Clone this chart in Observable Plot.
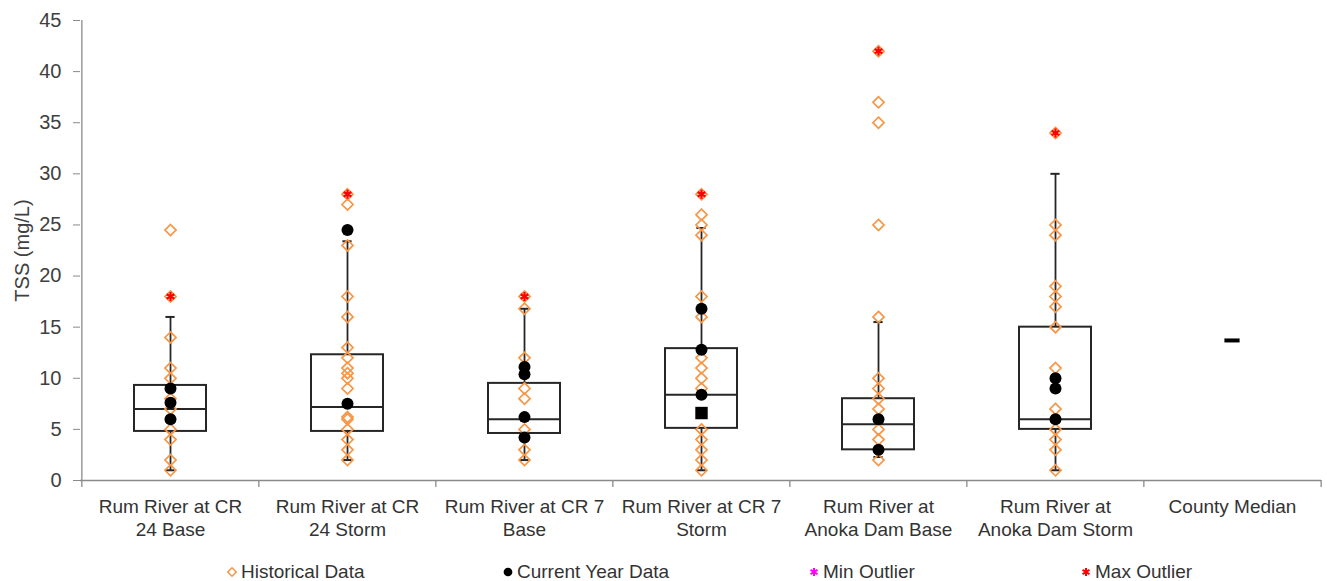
<!DOCTYPE html>
<html><head><meta charset="utf-8">
<script src="https://cdn.jsdelivr.net/npm/d3@7"></script>
<script src="https://cdn.jsdelivr.net/npm/@observablehq/plot@0.6"></script>
<style>
body{margin:0;background:#fff;font-family:"Liberation Sans",Arial,sans-serif;}
#legend{position:relative;width:1327px;height:29px;}
.item{position:absolute;top:5px;height:29px;display:flex;align-items:center;font-size:19px;color:#333;white-space:nowrap}
.item svg{margin-right:3px}
</style></head><body>
<div id="chart"></div><div id="legend"></div>
<script>
// ---- data ----
const categories = ["CR 24 Base","CR 24 Storm","CR 7 Base","CR 7 Storm","Anoka Dam Base","Anoka Dam Storm","County Median"];
const categoryLabels = ["Rum River at CR\n24 Base","Rum River at CR\n24 Storm","Rum River at CR 7\nBase","Rum River at CR 7\nStorm","Rum River at\nAnoka Dam Base","Rum River at\nAnoka Dam Storm","County Median"];
const yTicks = [0,5,10,15,20,25,30,35,40,45];

const boxLow    = [1,   2,    2,    1,    2.3, 1];
const boxQ1     = [4.8, 4.8,  4.6,  5.1,  3,   5];
const boxMedian = [7,   7.2,  6,    8.4,  5.5, 6];
const boxQ3     = [9.3, 12.3, 9.5,  12.9, 8,   15];
const boxHigh   = [16,  23.4, 16.8, 24.7, 15.5, 30];
const countyMedian = 13.7;

const historicalCR24Base  = [24.5, 18, 14, 11, 10, 8, 7, 5, 4, 2, 1];
const historicalCR24Storm = [28, 27, 23, 18, 16, 13, 12, 11, 10.5, 10, 9, 6.2, 6, 5, 4, 3, 2];
const historicalCR7Base   = [18, 16.8, 12, 9, 8, 5, 3, 2];
const historicalCR7Storm  = [28, 26, 25, 24, 18, 16, 12, 11, 10, 9, 5, 4, 3, 2, 1];
const historicalAnokaBase = [42, 37, 35, 25, 16, 10, 9, 8, 7, 5, 4, 2];
const historicalAnokaStorm= [34, 25, 24, 19, 18, 17, 15, 11, 7, 5, 4, 3, 1];

const currentCR24Base  = [9, 7.6, 6];
const currentCR24Storm = [24.5, 7.5];
const currentCR7Base   = [11.1, 10.4, 6.2, 4.2];
const currentCR7Storm  = [16.8, 12.8, 8.4];
const currentAnokaBase = [6, 3];
const currentAnokaStorm= [10, 9, 6];
const currentSquare = [{cat: "CR 7 Storm", v: 6.6}];

const maxOutlier = [18, 28, 18, 28, 42, 34];

const legendLabels = ["Historical Data","Current Year Data","Min Outlier","Max Outlier"];

// ---- tables ----
const historicalLists = [historicalCR24Base, historicalCR24Storm, historicalCR7Base, historicalCR7Storm, historicalAnokaBase, historicalAnokaStorm];
const currentLists = [currentCR24Base, currentCR24Storm, currentCR7Base, currentCR7Storm, currentAnokaBase, currentAnokaStorm];
const boxes = boxLow.map((d,i)=>({cat: categories[i], low: boxLow[i], q1: boxQ1[i], med: boxMedian[i], q3: boxQ3[i], high: boxHigh[i]}));
const hist = historicalLists.flatMap((l,i)=>l.map(v=>({cat: categories[i], v})));
const cur = currentLists.flatMap((l,i)=>l.map(v=>({cat: categories[i], v})));
const maxOut = maxOutlier.map((v,i)=>({cat: categories[i], v}));
const county = [{cat: categories[6], v: countyMedian}];

const W = 1327, H = 552, ML = 80, MR = 6, MT = 20, MB = 72;
const padIn = 0.595;
const step = (W - ML - MR) / categories.length;
const bw = step * (1 - padIn);
const capInset = (bw - 9) / 2;
const dashInset = (bw - 15) / 2;
const axisColor = "#8a8a8a";
const ink = "#262626";
const orange = "#F79646";

const chart = Plot.plot({
  width: W, height: H,
  marginLeft: ML, marginRight: MR, marginTop: MT, marginBottom: MB,
  style: {fontFamily: '"Liberation Sans", Arial, sans-serif', background: "#fff"},
  x: {domain: categories, paddingInner: padIn, paddingOuter: padIn / 2, axis: null},
  y: {domain: [0, 45], axis: null},
  marks: [
    Plot.ruleY([0], {stroke: axisColor, strokeWidth: 1.3}),
    Plot.ruleX([categories[0]], {x: d=>d, y1: 0, y2: 45, dx: -step/2, stroke: axisColor, strokeWidth: 1.3}),
    Plot.ruleX(categories, {x: d=>d, y1: 0, y2: 0, dx: -step/2, insetBottom: -7, stroke: axisColor, strokeWidth: 1.3}),
    Plot.ruleX([categories[categories.length-1]], {x: d=>d, y1: 0, y2: 0, dx: step/2, insetBottom: -7, stroke: axisColor, strokeWidth: 1.3}),
    Plot.axisY({ticks: yTicks, tickSize: 7, tickPadding: 12, stroke: axisColor, fontSize: 20, color: "#404040",
      label: "TSS (mg/L)", labelAnchor: "center", labelOffset: 66, labelArrow: "none"}),
    Plot.text(categories, {x: d=>d, frameAnchor: "bottom", lineAnchor: "top", dy: 16, text: (d,i)=>categoryLabels[i],
      fontSize: 19, lineHeight: 1.21, fill: "#333"}),
    // whiskers
    Plot.ruleX(boxes, {x: "cat", y1: "low", y2: "q1", stroke: ink, strokeWidth: 1.8}),
    Plot.ruleX(boxes, {x: "cat", y1: "q3", y2: "high", stroke: ink, strokeWidth: 1.8}),
    Plot.tickY(boxes, {x: "cat", y: "low", insetLeft: capInset, insetRight: capInset, stroke: ink, strokeWidth: 2}),
    Plot.tickY(boxes, {x: "cat", y: "high", insetLeft: capInset, insetRight: capInset, stroke: ink, strokeWidth: 2}),
    // boxes
    Plot.barY(boxes, {x: "cat", y1: "q1", y2: "q3", fill: "none", stroke: ink, strokeWidth: 2}),
    Plot.tickY(boxes, {x: "cat", y: "med", stroke: ink, strokeWidth: 2}),
    Plot.tickY(county, {x: "cat", y: "v", insetLeft: dashInset, insetRight: dashInset, stroke: "#000", strokeWidth: 4}),
    // points
    Plot.dot(hist, {x: "cat", y: "v", symbol: "diamond2", r: 5, stroke: orange, strokeWidth: 1.7, fill: "none"}),
    Plot.dot(cur, {x: "cat", y: "v", symbol: "circle", r: 6, fill: "#000", stroke: "none"}),
    Plot.dot(currentSquare, {x: "cat", y: "v", symbol: "square", r: 7, fill: "#000", stroke: "none"}),
    Plot.dot(maxOut, {x: "cat", y: "v", symbol: "asterisk", r: 4.2, stroke: "#FF0000", strokeWidth: 2.2})
  ]
});
document.getElementById("chart").appendChild(chart);

// legend
const legendSymbols = [
  {type: d3.symbolDiamond2, fill: "none", stroke: orange, sw: 1.5},
  {type: d3.symbolCircle, fill: "#000", stroke: "none", sw: 0},
  {type: d3.symbolAsterisk, fill: "none", stroke: "#FF00FF", sw: 2},
  {type: d3.symbolAsterisk, fill: "none", stroke: "#FF0000", sw: 2}
];
const legendLeft = [226, 502, 808, 1080];
const leg = d3.select("#legend");
legendLabels.forEach((label, i) => {
  const s = legendSymbols[i];
  const item = leg.append("div").attr("class", "item").style("left", legendLeft[i] + "px");
  const svg = item.append("svg").attr("width", 12).attr("height", 12).attr("viewBox", "-6 -6 12 12");
  svg.append("path").attr("d", d3.symbol(s.type, i === 1 ? 60 : 45)()).attr("fill", s.fill).attr("stroke", s.stroke).attr("stroke-width", s.sw);
  item.append("span").text(label);
});
</script>
</body></html>
